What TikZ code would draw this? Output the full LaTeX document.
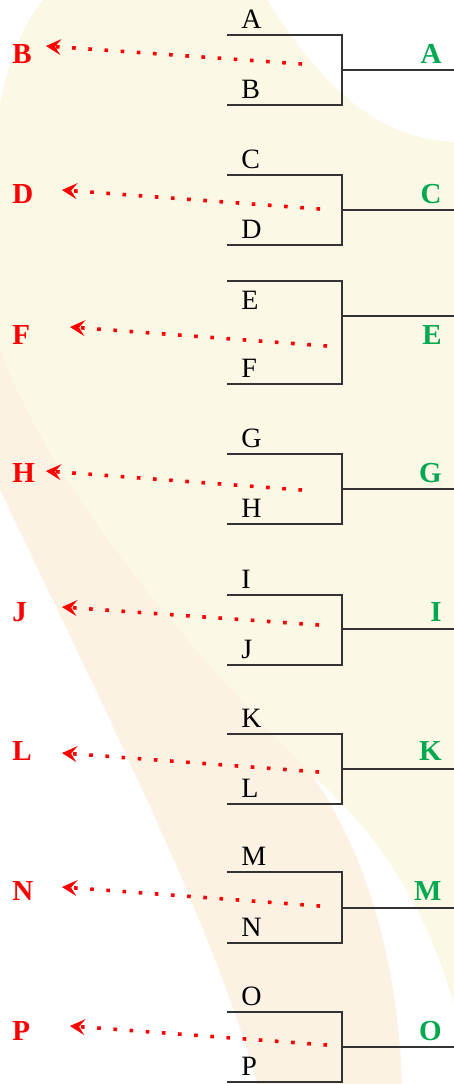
\documentclass[tikz,border=0pt]{standalone}
\usepackage{fontspec}
\setmainfont{Liberation Serif}
\usetikzlibrary{arrows.meta}
\definecolor{cream}{RGB}{251,248,230}
\definecolor{peach}{RGB}{252,242,228}
\definecolor{wingreen}{RGB}{0,168,80}

\begin{document}
\begin{tikzpicture}[x=0.5pt,y=-0.5pt,>={Stealth[length=7.5pt,width=8pt,inset=3pt,line width=0.6pt,fill=red]}]%bracket

      \tikzstyle{team}=[anchor=base west,inner sep=0pt,font=\fontsize{14}{16}\selectfont]
      \tikzstyle{loser}=[team,text=red,font=\fontsize{14.5}{16}\selectfont\bfseries]
      \tikzstyle{winner}=[anchor=base east,inner sep=0pt,text=wingreen,
      			  font=\fontsize{14.5}{16}\selectfont\bfseries]
      \tikzstyle{bracket}=[draw=black!80,line width=0.7pt]
      \tikzstyle{drop}=[->,red,line width=1.8pt,dash pattern=on 1.8pt off 6.3pt]

      \useasboundingbox (0,0) rectangle (454,1084);

      %background swooshes
      \fill[white] (0,0) rectangle (454,1084);
      \fill[cream] (43,0) -- (267,0) .. controls (330,100) and (385,138) .. (454,142)
        -- (454,1005) .. controls (425,900) and (370,825) .. (312,775)
        .. controls (180,640) and (45,480) .. (0,347)
        -- (0,104) .. controls (10,55) and (25,22) .. (43,0) -- cycle;
      \fill[peach] (0,347) .. controls (45,480) and (180,640) .. (312,775)
        .. controls (365,850) and (398,960) .. (402,1084)
        -- (257,1084) .. controls (215,930) and (110,720) .. (0,490) -- cycle;

      %teams
      \node [team] (a) at (241,28)   {A};
      \node [team] (b) at (241,98)   {B};
      \node [team] (c) at (241,168)  {C};
      \node [team] (d) at (241,238)  {D};
      \node [team] (e) at (241,309)  {E};
      \node [team] (f) at (241,377)  {F};
      \node [team] (g) at (241,447)  {G};
      \node [team] (h) at (241,517)  {H};
      \node [team] (i) at (241,588)  {I};
      \node [team] (j) at (241,658)  {J};
      \node [team] (k) at (241,727)  {K};
      \node [team] (l) at (241,797)  {L};
      \node [team] (m) at (241,865)  {M};
      \node [team] (n) at (241,936)  {N};
      \node [team] (o) at (241,1005) {O};
      \node [team] (p) at (241,1075) {P};

      %brackets
      \coordinate (m1) at (342,70);
      \coordinate (m2) at (342,210);
      \coordinate (m3) at (342,316);
      \coordinate (m4) at (342,489);
      \coordinate (m5) at (342,629);
      \coordinate (m6) at (342,769);
      \coordinate (m7) at (342,908);
      \coordinate (m8) at (342,1047);
      \draw [bracket] (227,35) -| (m1) |- (227,105);
      \draw [bracket] (227,175) -| (m2) |- (227,245);
      \draw [bracket] (227,281) -| (m3) |- (227,384);
      \draw [bracket] (227,454) -| (m4) |- (227,524);
      \draw [bracket] (227,595) -| (m5) |- (227,665);
      \draw [bracket] (227,734) -| (m6) |- (227,804);
      \draw [bracket] (227,872) -| (m7) |- (227,943);
      \draw [bracket] (227,1012) -| (m8) |- (227,1082);
      \draw [bracket] (m1) -- (454,70);
      \draw [bracket] (m2) -- (454,210);
      \draw [bracket] (m3) -- (454,316);
      \draw [bracket] (m4) -- (454,489);
      \draw [bracket] (m5) -- (454,629);
      \draw [bracket] (m6) -- (454,769);
      \draw [bracket] (m7) -- (454,908);
      \draw [bracket] (m8) -- (454,1047);

      %winners
      \node [winner] (wa) at (442,63)   {A};
      \node [winner] (wc) at (442,203)  {C};
      \node [winner] (we) at (442,344)  {E};
      \node [winner] (wg) at (442,482)  {G};
      \node [winner] (wi) at (442,621)  {I};
      \node [winner] (wk) at (442,760)  {K};
      \node [winner] (wm) at (442,900)  {M};
      \node [winner] (wo) at (442,1040) {O};

      %losers
      \node [loser] (lb) at (12,63)   {B};
      \node [loser] (ld) at (12,203)  {D};
      \node [loser] (lf) at (12,344)  {F};
      \node [loser] (lh) at (12,482)  {H};
      \node [loser] (lj) at (12,621)  {J};
      \node [loser] (ll) at (12,760)  {L};
      \node [loser] (ln) at (12,900)  {N};
      \node [loser] (lp) at (12,1040) {P};

      %dropping out
      \coordinate (sb) at (302,64);   \coordinate (eb) at (46,46);
      \coordinate (sd) at (320,209);  \coordinate (ed) at (62,190);
      \coordinate (sf) at (327,346);  \coordinate (ef) at (70,327);
      \coordinate (sh) at (302,490);  \coordinate (eh) at (46,471);
      \coordinate (sj) at (319,625);  \coordinate (ej) at (62,607);
      \coordinate (sl) at (319,772);  \coordinate (el) at (62,753);
      \coordinate (sn) at (320,906);  \coordinate (en) at (62,887);
      \coordinate (sp) at (327,1045); \coordinate (ep) at (70,1026);
      \draw [drop] (sb) -- (eb);
      \draw [drop] (sd) -- (ed);
      \draw [drop] (sf) -- (ef);
      \draw [drop] (sh) -- (eh);
      \draw [drop] (sj) -- (ej);
      \draw [drop] (sl) -- (el);
      \draw [drop] (sn) -- (en);
      \draw [drop] (sp) -- (ep);

\end{tikzpicture}
\end{document}
